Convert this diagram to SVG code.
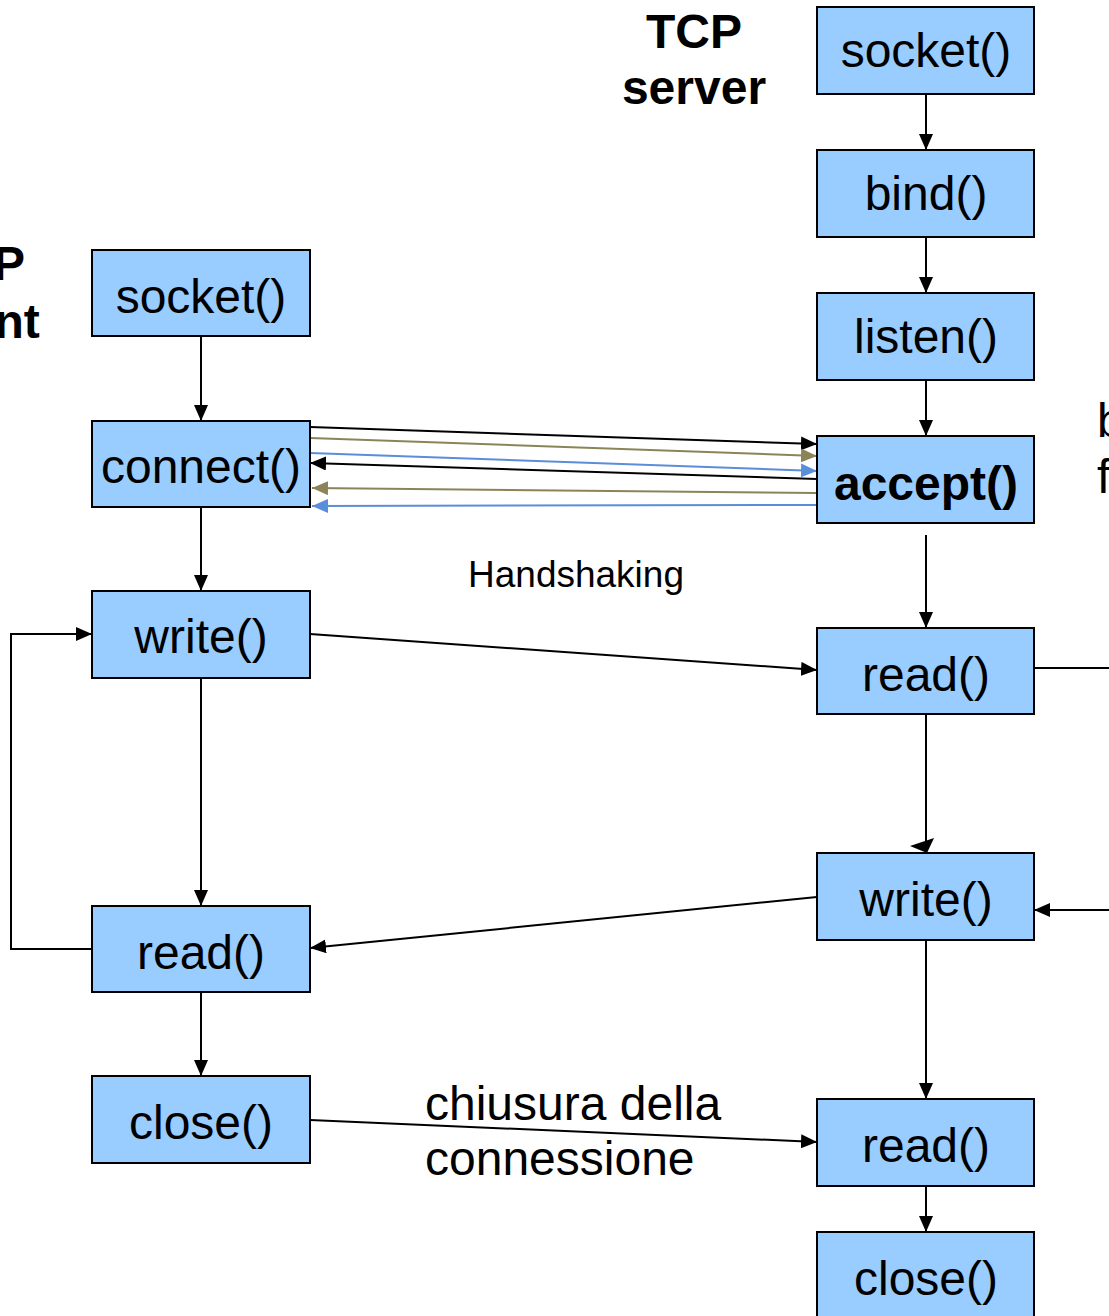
<svg xmlns="http://www.w3.org/2000/svg" width="1109" height="1316" viewBox="0 0 1109 1316">
<defs>
<style>
.box{fill:#99CCFF;stroke:#000;stroke-width:2}
.t{font-family:"Liberation Sans",Arial,sans-serif;font-size:48px;text-anchor:middle;fill:#000}
.b{font-weight:bold}
.lbl{font-family:"Liberation Sans",Arial,sans-serif;fill:#000}
.c{fill:none;stroke:#000;stroke-width:2}
.ol{fill:none;stroke:#8C8459;stroke-width:2}
.bl{fill:none;stroke:#5B8ED8;stroke-width:2}
</style>
<marker id="ak" markerWidth="17" markerHeight="14" refX="16" refY="7" orient="auto" markerUnits="userSpaceOnUse"><path d="M0,0 L16,7 L0,14 Z" fill="#000"/></marker>
<marker id="ao" markerWidth="17" markerHeight="14" refX="16" refY="7" orient="auto" markerUnits="userSpaceOnUse"><path d="M0,0 L16,7 L0,14 Z" fill="#8C8459"/></marker>
<marker id="ab" markerWidth="17" markerHeight="14" refX="16" refY="7" orient="auto" markerUnits="userSpaceOnUse"><path d="M0,0 L16,7 L0,14 Z" fill="#5B8ED8"/></marker>
</defs>
<rect width="1109" height="1316" fill="#fff"/>
<g id="labels">
<text class="t b" x="694" y="48">TCP</text>
<text class="t b" x="694" y="104">server</text>
<text class="t b" x="-23" y="280">TCP</text>
<text class="t b" x="-23" y="338">client</text>
<text class="lbl" x="468" y="587" font-size="37">Handshaking</text>
<text class="lbl" x="425" y="1120" font-size="48">chiusura della</text>
<text class="lbl" x="425" y="1175" font-size="48">connessione</text>
<text class="lbl" x="1097" y="437" font-size="48">b</text>
<text class="lbl" x="1097" y="493" font-size="48">f</text>
</g>
<g id="connectors">
<line class="c" x1="926" y1="94" x2="926" y2="150" marker-end="url(#ak)"/>
<line class="c" x1="926" y1="237" x2="926" y2="293" marker-end="url(#ak)"/>
<line class="c" x1="926" y1="380" x2="926" y2="436" marker-end="url(#ak)"/>
<line class="c" x1="926" y1="535" x2="926" y2="628" marker-end="url(#ak)"/>
<line class="c" x1="926" y1="714" x2="926" y2="846"/>
<polygon points="910,846 934,838 927,853" fill="#000"/>
<line class="c" x1="926" y1="940" x2="926" y2="1099" marker-end="url(#ak)"/>
<line class="c" x1="926" y1="1186" x2="926" y2="1232" marker-end="url(#ak)"/>
<line class="c" x1="1034" y1="668" x2="1109" y2="668"/>
<line class="c" x1="1109" y1="910" x2="1034" y2="910" marker-end="url(#ak)"/>
<line class="c" x1="201" y1="336" x2="201" y2="421" marker-end="url(#ak)"/>
<line class="c" x1="201" y1="507" x2="201" y2="591" marker-end="url(#ak)"/>
<line class="c" x1="201" y1="678" x2="201" y2="906" marker-end="url(#ak)"/>
<line class="c" x1="201" y1="992" x2="201" y2="1076" marker-end="url(#ak)"/>
<polyline class="c" points="92,949 11,949 11,634 92,634" marker-end="url(#ak)"/>
<line class="c" x1="310" y1="634" x2="817" y2="670" marker-end="url(#ak)"/>
<line class="c" x1="817" y1="897" x2="310" y2="948" marker-end="url(#ak)"/>
<line class="c" x1="310" y1="1120" x2="817" y2="1142" marker-end="url(#ak)"/>
<line class="c" x1="310" y1="427" x2="817" y2="444" marker-end="url(#ak)"/>
<line class="ol" x1="310" y1="438" x2="817" y2="456" marker-end="url(#ao)"/>
<line class="bl" x1="310" y1="453" x2="817" y2="471" marker-end="url(#ab)"/>
<line class="c" x1="817" y1="479" x2="310" y2="463" marker-end="url(#ak)"/>
<line class="ol" x1="817" y1="493" x2="312" y2="488" marker-end="url(#ao)"/>
<line class="bl" x1="817" y1="505" x2="312" y2="506" marker-end="url(#ab)"/>
</g>
<g id="s_socket"><rect class="box" x="817" y="7" width="217" height="87"/><text class="t" x="926" y="67">socket()</text></g>
<g id="s_bind"><rect class="box" x="817" y="150" width="217" height="87"/><text class="t" x="926" y="210">bind()</text></g>
<g id="s_listen"><rect class="box" x="817" y="293" width="217" height="87"/><text class="t" x="926" y="353">listen()</text></g>
<g id="s_accept"><rect class="box" x="817" y="436" width="217" height="87"/><text class="t b" x="926" y="500">accept()</text></g>
<g id="s_read1"><rect class="box" x="817" y="628" width="217" height="86"/><text class="t" x="926" y="691">read()</text></g>
<g id="s_write"><rect class="box" x="817" y="853" width="217" height="87"/><text class="t" x="926" y="916">write()</text></g>
<g id="s_read2"><rect class="box" x="817" y="1099" width="217" height="87"/><text class="t" x="926" y="1162">read()</text></g>
<g id="s_close"><rect class="box" x="817" y="1232" width="217" height="90"/><text class="t" x="926" y="1295">close()</text></g>
<g id="c_socket"><rect class="box" x="92" y="250" width="218" height="86"/><text class="t" x="201" y="313">socket()</text></g>
<g id="c_connect"><rect class="box" x="92" y="421" width="218" height="86"/><text class="t" x="201" y="483">connect()</text></g>
<g id="c_write"><rect class="box" x="92" y="591" width="218" height="87"/><text class="t" x="201" y="653">write()</text></g>
<g id="c_read"><rect class="box" x="92" y="906" width="218" height="86"/><text class="t" x="201" y="969">read()</text></g>
<g id="c_close"><rect class="box" x="92" y="1076" width="218" height="87"/><text class="t" x="201" y="1139">close()</text></g>
</svg>
